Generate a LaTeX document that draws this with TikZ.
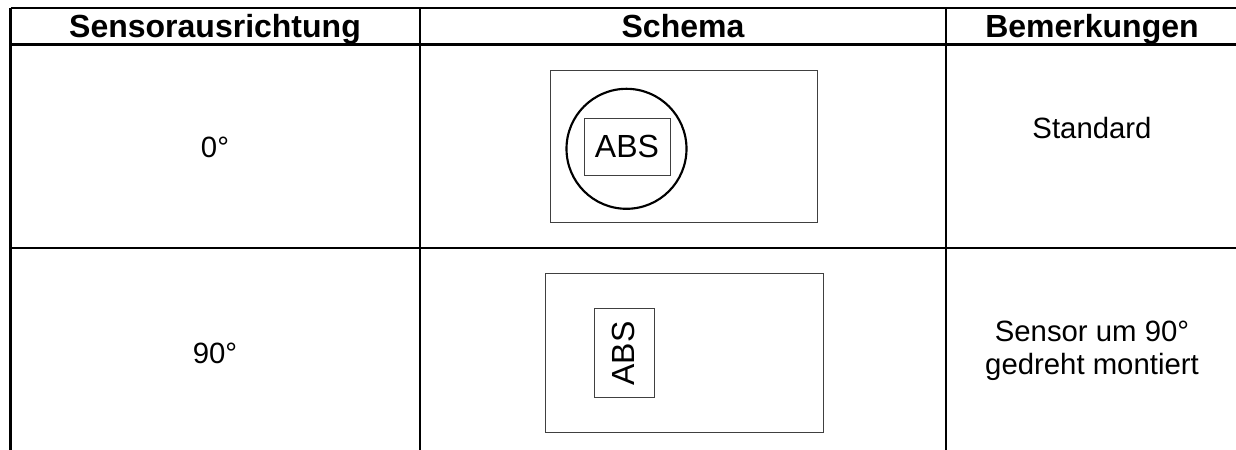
\documentclass[tikz,border=0pt]{standalone}
\usepackage{fontspec}
\setmainfont{Liberation Sans}
\tikzset{
  x=0.75pt,y=-0.75pt,
  grid/.style={line width=2pt,black},
  frame/.style={draw=black!75,line width=0.8pt,rectangle,inner sep=0pt,anchor=north west},
  ring/.style={draw=black,line width=1.6pt,circle,inner sep=0pt,minimum size=90pt},
  head/.style={font=\bfseries\fontsize{24}{28}\selectfont,inner sep=0pt,anchor=base},
  body/.style={font=\fontsize{22}{24.2}\selectfont,inner sep=0pt,align=center,anchor=base},
  abs/.style={font=\fontsize{24}{28}\selectfont,inner sep=0pt,anchor=base}
}
\begin{document}
\begin{tikzpicture}
\useasboundingbox (0,0) rectangle (1236,450);
\coordinate (tl) at (10.5,8); \coordinate (tr) at (1236,8);
\coordinate (hl) at (10.5,44.3); \coordinate (hr) at (1236,44.3);
\coordinate (ml) at (10.5,248); \coordinate (mr) at (1236,248);
\coordinate (bl) at (10.5,450);
\coordinate (c1t) at (420,8); \coordinate (c1b) at (420,450);
\coordinate (c2t) at (946,8); \coordinate (c2b) at (946,450);
\draw[grid] (tl) -- (tr);
\draw[grid] (hl) -- (hr);
\draw[grid] (ml) -- (mr);
\draw[grid] (tl) -- (bl);
\draw[grid] (c1t) -- (c1b);
\draw[grid] (c2t) -- (c2b);
\node[head] (h1) at (215,37.5) {Sensorausrichtung};
\node[head] (h2) at (683,37.5) {Schema};
\node[head] (h3) at (1092,37.5) {Bemerkungen};
\node[body] (a0) at (215,157) {0°};
\node[body] (a90) at (215,363) {90°};
\node[body] (n1) at (1092,138.5) {Standard};
\node[body] (n2a) at (1092,341.5) {Sensor um 90°};
\node[body] (n2b) at (1092,374) {gedreht montiert};
\node[frame,minimum width=200.25pt,minimum height=114pt] (r1) at (550,70) {};
\node[ring] (ci) at (626.5,148.8) {};
\node[frame,minimum width=64.5pt,minimum height=43pt] (b1) at (583.5,118) {};
\node[abs] (t1) at (627,157.3) {ABS};
\node[frame,minimum width=208.5pt,minimum height=119pt] (r2) at (544.5,273) {};
\node[frame,minimum width=45pt,minimum height=67pt] (b2) at (594,308) {};
\node[abs,rotate=90] (t2) at (634.3,353.4) {ABS};
\end{tikzpicture}
\end{document}
